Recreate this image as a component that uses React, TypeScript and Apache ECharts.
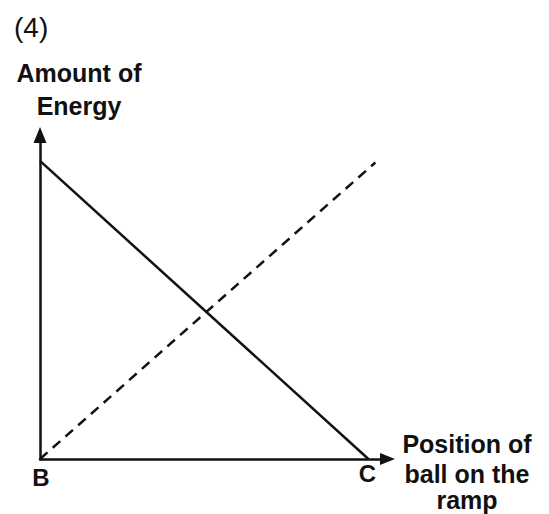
import React, { useEffect, useRef } from "react";
import * as echarts from "echarts";

// Chart data
const solidX = [0, 9.45];
const solidY = [9.2, 0];
const dashedX = [0, 9.65];
const dashedY = [0, 9.15];
const pointNames = ["B", "C"];
const pointX = [0, 9.45];
const pointY = [0, 0];
const panelLabel = "(4)";
const yTitleLines = ["Amount of", "Energy"];
const xTitleLines = ["Position of", "ball on the", "ramp"];

const FONT = "'Liberation Sans', Arial, Helvetica, sans-serif";
const INK = "#111111";

export default function App() {
  const ref = useRef<HTMLDivElement>(null);
  useEffect(() => {
    if (!ref.current) return;
    const chart = echarts.init(ref.current, null, { renderer: "svg" });
    const pointOffsets = [[1, 4], [-1, 0]];
    const option = {
      animation: false,
      backgroundColor: "#ffffff",
      grid: { left: 40, top: 135, right: 161.5, bottom: 55, containLabel: false },
      xAxis: {
        type: "value",
        min: 0,
        max: 10,
        axisLine: {
          show: true,
          lineStyle: { color: INK, width: 2.5 },
          symbol: ["none", "triangle"],
          symbolSize: [12, 15],
        },
        axisTick: { show: false },
        axisLabel: { show: false },
        splitLine: { show: false },
      },
      yAxis: {
        type: "value",
        min: 0,
        max: 10,
        axisLine: {
          show: true,
          lineStyle: { color: INK, width: 2.5 },
          symbol: ["none", "triangle"],
          symbolSize: [13, 16],
        },
        axisTick: { show: false },
        axisLabel: { show: false },
        splitLine: { show: false },
      },
      series: [
        {
          type: "line",
          data: solidX.map((x, i) => [x, solidY[i]]),
          showSymbol: false,
          lineStyle: { color: INK, width: 2.5, type: "solid" },
          z: 3,
        },
        {
          type: "line",
          data: dashedX.map((x, i) => [x, dashedY[i]]),
          showSymbol: false,
          lineStyle: { color: INK, width: 2.5, type: [10, 7] },
          z: 3,
        },
        {
          type: "scatter",
          symbolSize: 0,
          itemStyle: { color: INK, opacity: 1 },
          data: pointNames.map((n, i) => ({
            value: [pointX[i], pointY[i]],
            name: n,
            label: { offset: pointOffsets[i] },
          })),
          label: {
            show: true,
            position: "bottom",
            distance: 2,
            formatter: (p: any) => p.name,
            fontFamily: FONT,
            fontWeight: "bold",
            fontSize: 24,
            color: INK,
            opacity: 1,
            textBorderWidth: 0,
          },
          emphasis: { disabled: true },
          z: 4,
        },
      ],
      graphic: [
        {
          type: "text",
          left: 14,
          top: 13,
          style: { text: panelLabel, font: `28px ${FONT}`, fill: INK },
        },
        ...yTitleLines.map((t, i) => ({
          type: "text",
          x: 79,
          y: [73, 106][i],
          style: {
            text: t,
            font: `bold 25px ${FONT}`,
            fill: INK,
            align: "center",
            verticalAlign: "middle",
          },
        })),
        ...xTitleLines.map((t, i) => ({
          type: "text",
          x: 467,
          y: [444, 474, 500][i],
          style: {
            text: t,
            font: `bold 25px ${FONT}`,
            fill: INK,
            align: "center",
            verticalAlign: "middle",
          },
        })),
      ],
    };
    chart.setOption(option as any);
    return () => chart.dispose();
  }, []);
  return (
    <div
      ref={ref}
      style={{ position: "absolute", left: 0, top: 0, width: 549, height: 514, background: "#fff" }}
    />
  );
}
